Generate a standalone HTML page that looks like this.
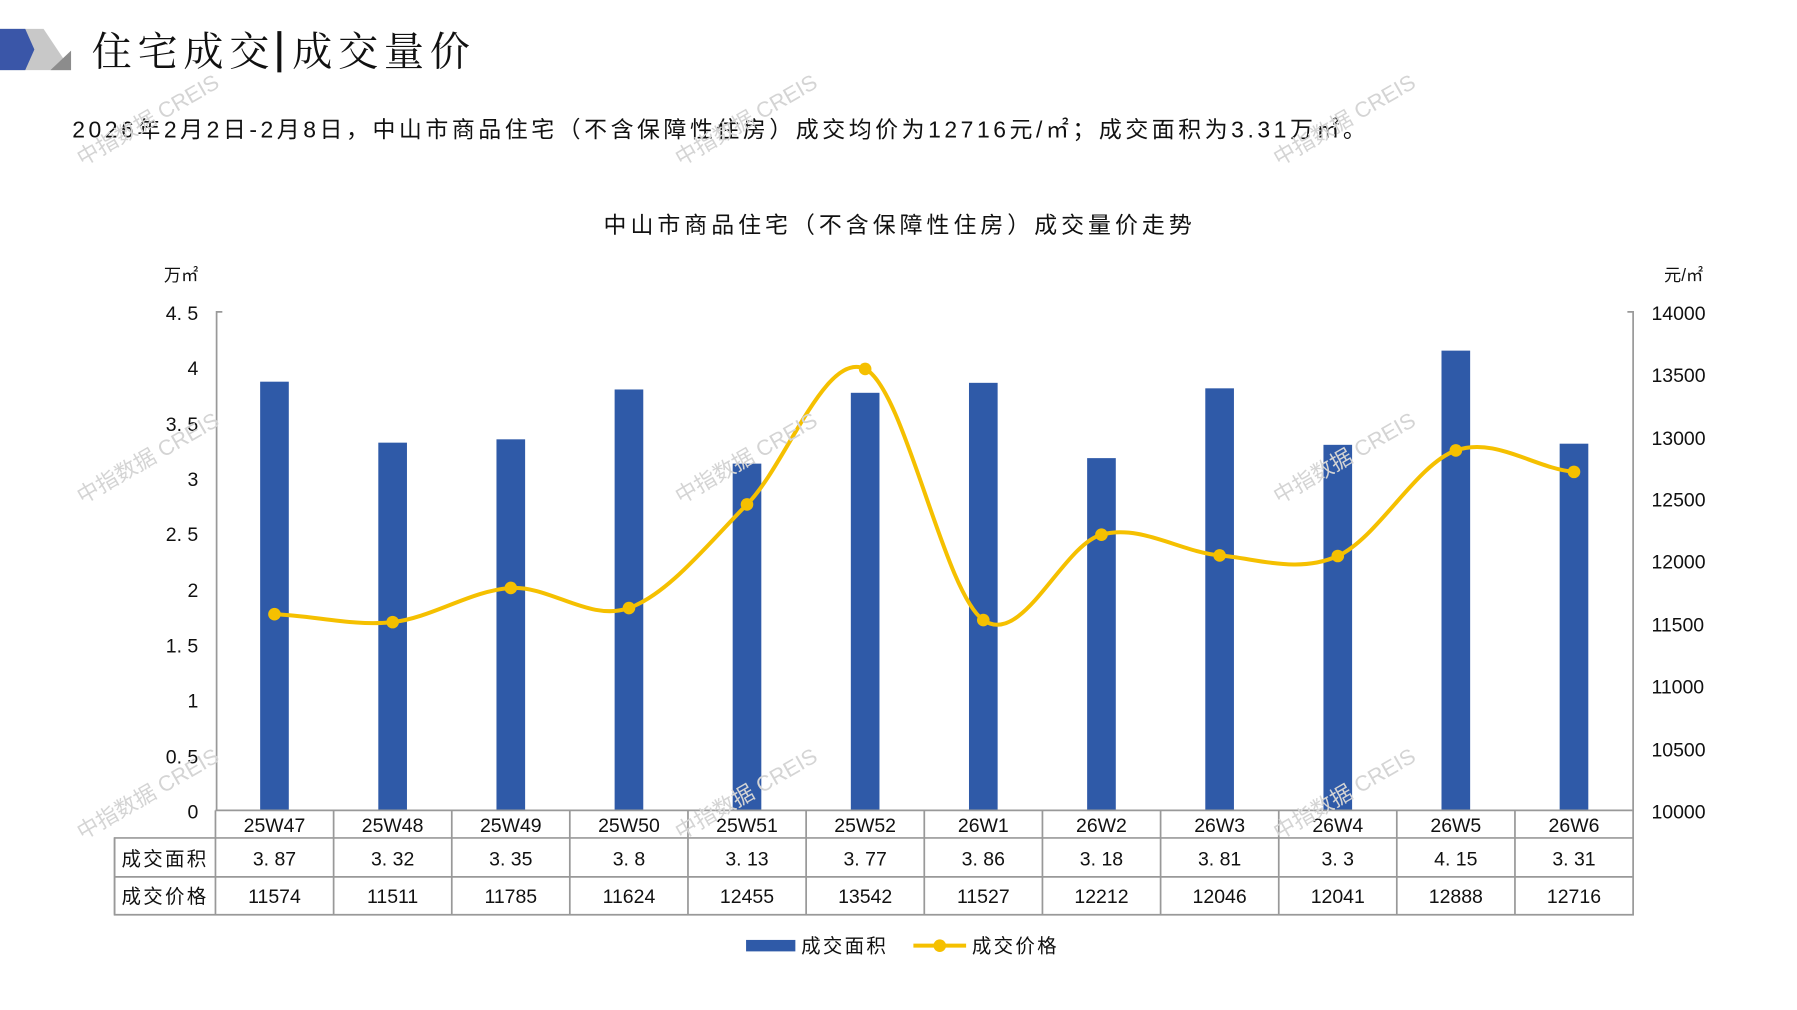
<!DOCTYPE html>
<html><head><meta charset="utf-8"><style>
html,body{margin:0;padding:0;background:#fff}
svg{display:block}
text{font-family:"Liberation Sans","Noto Sans CJK SC",sans-serif;fill:#111}
.wm text{fill:#d4d4d4;font-size:19px}
</style></head><body>
<svg width="1797" height="1010" viewBox="0 0 1568 881" xmlns="http://www.w3.org/2000/svg">
<rect width="1568" height="881" fill="#fff"/>
<polygon points="0,25 38,25 62,61 0,61" fill="#c8c8c8"/>
<polygon points="0,25 22,25 30,43 22,61 0,61" fill="#3a56a8"/>
<polygon points="44,61 62,44 62,61" fill="#8c8c8c"/>
<text x="80" y="57" font-size="35" letter-spacing="5" style="font-family:'Noto Serif CJK SC','Noto Sans CJK SC',sans-serif">住宅成交</text>
<rect x="242" y="27" width="3.5" height="36" fill="#111"/>
<text x="255" y="57" font-size="35" letter-spacing="5" style="font-family:'Noto Serif CJK SC','Noto Sans CJK SC',sans-serif">成交量价</text>
<text x="63" y="120" font-size="20" letter-spacing="3.1">2026年2月2日-2月8日，中山市商品住宅（不含保障性住房）成交均价为12716元/㎡；成交面积为3.31万㎡。</text>
<text x="785" y="203" font-size="20" text-anchor="middle" letter-spacing="3.5">中山市商品住宅（不含保障性住房）成交量价走势</text>
<text x="143" y="245" font-size="15">万㎡</text>
<text x="1452" y="245" font-size="15">元/㎡</text>
<g stroke="#999" stroke-width="1.5" fill="none">
<path d="M194,272 H189 V707"/>
<path d="M1420,272 H1425 V707"/>
</g>
<g font-size="17" text-anchor="end">
<text x="173" y="279">4. 5</text><text x="173" y="327">4</text><text x="173" y="376">3. 5</text>
<text x="173" y="424">3</text><text x="173" y="472">2. 5</text><text x="173" y="521">2</text>
<text x="173" y="569">1. 5</text><text x="173" y="617">1</text><text x="173" y="666">0. 5</text>
<text x="173" y="714">0</text>
</g>
<g font-size="17">
<text x="1441" y="279">14000</text><text x="1441" y="333">13500</text><text x="1441" y="388">13000</text>
<text x="1441" y="442">12500</text><text x="1441" y="496">12000</text><text x="1441" y="551">11500</text>
<text x="1441" y="605">11000</text><text x="1441" y="660">10500</text><text x="1441" y="714">10000</text>
</g>
<g fill="#2f5aa8">
<rect x="227" y="332.9" width="25" height="374.1"/>
<rect x="330.1" y="386.1" width="25" height="320.9"/>
<rect x="433.2" y="383.2" width="25" height="323.8"/>
<rect x="536.3" y="339.7" width="25" height="367.3"/>
<rect x="639.3" y="404.4" width="25" height="302.6"/>
<rect x="742.4" y="342.6" width="25" height="364.4"/>
<rect x="845.5" y="333.9" width="25" height="373.1"/>
<rect x="948.6" y="399.6" width="25" height="307.4"/>
<rect x="1051.7" y="338.7" width="25" height="368.3"/>
<rect x="1154.8" y="388" width="25" height="319"/>
<rect x="1257.8" y="305.8" width="25" height="401.2"/>
<rect x="1360.9" y="387" width="25" height="320"/>
</g>
<path d="M239.5,535.8 C273.9,536.95 308.2,546.5 342.6,542.7 C377,538.9 411.3,514.95 445.7,512.9 C480.1,510.85 514.4,542.55 548.8,530.4 C583.2,518.25 617.4,474.8 651.8,440 C686.2,405.2 720.5,305 754.9,321.8 C789.3,338.6 823.6,516.8 858,540.9 C892.4,565 926.7,475.8 961.1,466.4 C995.5,457 1029.8,481.4 1064.2,484.5 C1098.6,487.6 1132.9,500.3 1167.3,485 C1201.7,469.7 1235.9,405.1 1270.3,392.9 C1304.7,380.7 1339,408.5 1373.4,411.6" fill="none" stroke="#f5c000" stroke-width="3.5"/>
<g fill="#f5c000">
<circle cx="239.5" cy="535.8" r="5.5"/><circle cx="342.6" cy="542.7" r="5.5"/><circle cx="445.7" cy="512.9" r="5.5"/>
<circle cx="548.8" cy="530.4" r="5.5"/><circle cx="651.8" cy="440" r="5.5"/><circle cx="754.9" cy="321.8" r="5.5"/>
<circle cx="858" cy="540.9" r="5.5"/><circle cx="961.1" cy="466.4" r="5.5"/><circle cx="1064.2" cy="484.5" r="5.5"/>
<circle cx="1167.3" cy="485" r="5.5"/><circle cx="1270.3" cy="392.9" r="5.5"/><circle cx="1373.4" cy="411.6" r="5.5"/>
</g>
<g stroke="#999" stroke-width="1.5" fill="none">
<path d="M188,707 H1425 V798 H100 V731 H1425 M100,765 H1425"/>
<path d="M188,707 V798 M291.1,707 V798 M394.2,707 V798 M497.2,707 V798 M600.3,707 V798 M703.4,707 V798 M806.5,707 V798 M909.6,707 V798 M1012.7,707 V798 M1115.8,707 V798 M1218.8,707 V798 M1321.9,707 V798 M100,731 V798"/>
</g>
<g font-size="17" text-anchor="middle">
<text x="239.5" y="726">25W47</text><text x="342.6" y="726">25W48</text><text x="445.7" y="726">25W49</text>
<text x="548.8" y="726">25W50</text><text x="651.8" y="726">25W51</text><text x="754.9" y="726">25W52</text>
<text x="858" y="726">26W1</text><text x="961.1" y="726">26W2</text><text x="1064.2" y="726">26W3</text>
<text x="1167.3" y="726">26W4</text><text x="1270.3" y="726">26W5</text><text x="1373.4" y="726">26W6</text>
<text x="144" y="755" letter-spacing="2">成交面积</text>
<text x="239.5" y="755">3. 87</text><text x="342.6" y="755">3. 32</text><text x="445.7" y="755">3. 35</text>
<text x="548.8" y="755">3. 8</text><text x="651.8" y="755">3. 13</text><text x="754.9" y="755">3. 77</text>
<text x="858" y="755">3. 86</text><text x="961.1" y="755">3. 18</text><text x="1064.2" y="755">3. 81</text>
<text x="1167.3" y="755">3. 3</text><text x="1270.3" y="755">4. 15</text><text x="1373.4" y="755">3. 31</text>
<text x="144" y="788" letter-spacing="2">成交价格</text>
<text x="239.5" y="788">11574</text><text x="342.6" y="788">11511</text><text x="445.7" y="788">11785</text>
<text x="548.8" y="788">11624</text><text x="651.8" y="788">12455</text><text x="754.9" y="788">13542</text>
<text x="858" y="788">11527</text><text x="961.1" y="788">12212</text><text x="1064.2" y="788">12046</text>
<text x="1167.3" y="788">12041</text><text x="1270.3" y="788">12888</text><text x="1373.4" y="788">12716</text>
</g>
<rect x="651" y="820" width="43" height="10" fill="#2f5aa8"/>
<text x="699" y="831" font-size="17" letter-spacing="2">成交面积</text>
<line x1="797" y1="825" x2="843" y2="825" stroke="#f5c000" stroke-width="3.5"/>
<circle cx="820" cy="825" r="5.5" fill="#f5c000"/>
<text x="848" y="831" font-size="17" letter-spacing="2">成交价格</text>
<g class="wm">
<text transform="translate(72,145) rotate(-30)">中指数据 CREIS</text>
<text transform="translate(594,145) rotate(-30)">中指数据 CREIS</text>
<text transform="translate(1116,145) rotate(-30)">中指数据 CREIS</text>
<text transform="translate(72,440) rotate(-30)">中指数据 CREIS</text>
<text transform="translate(594,440) rotate(-30)">中指数据 CREIS</text>
<text transform="translate(1116,440) rotate(-30)">中指数据 CREIS</text>
<text transform="translate(72,733) rotate(-30)">中指数据 CREIS</text>
<text transform="translate(594,733) rotate(-30)">中指数据 CREIS</text>
<text transform="translate(1116,733) rotate(-30)">中指数据 CREIS</text>
</g>
</svg>
</body></html>
